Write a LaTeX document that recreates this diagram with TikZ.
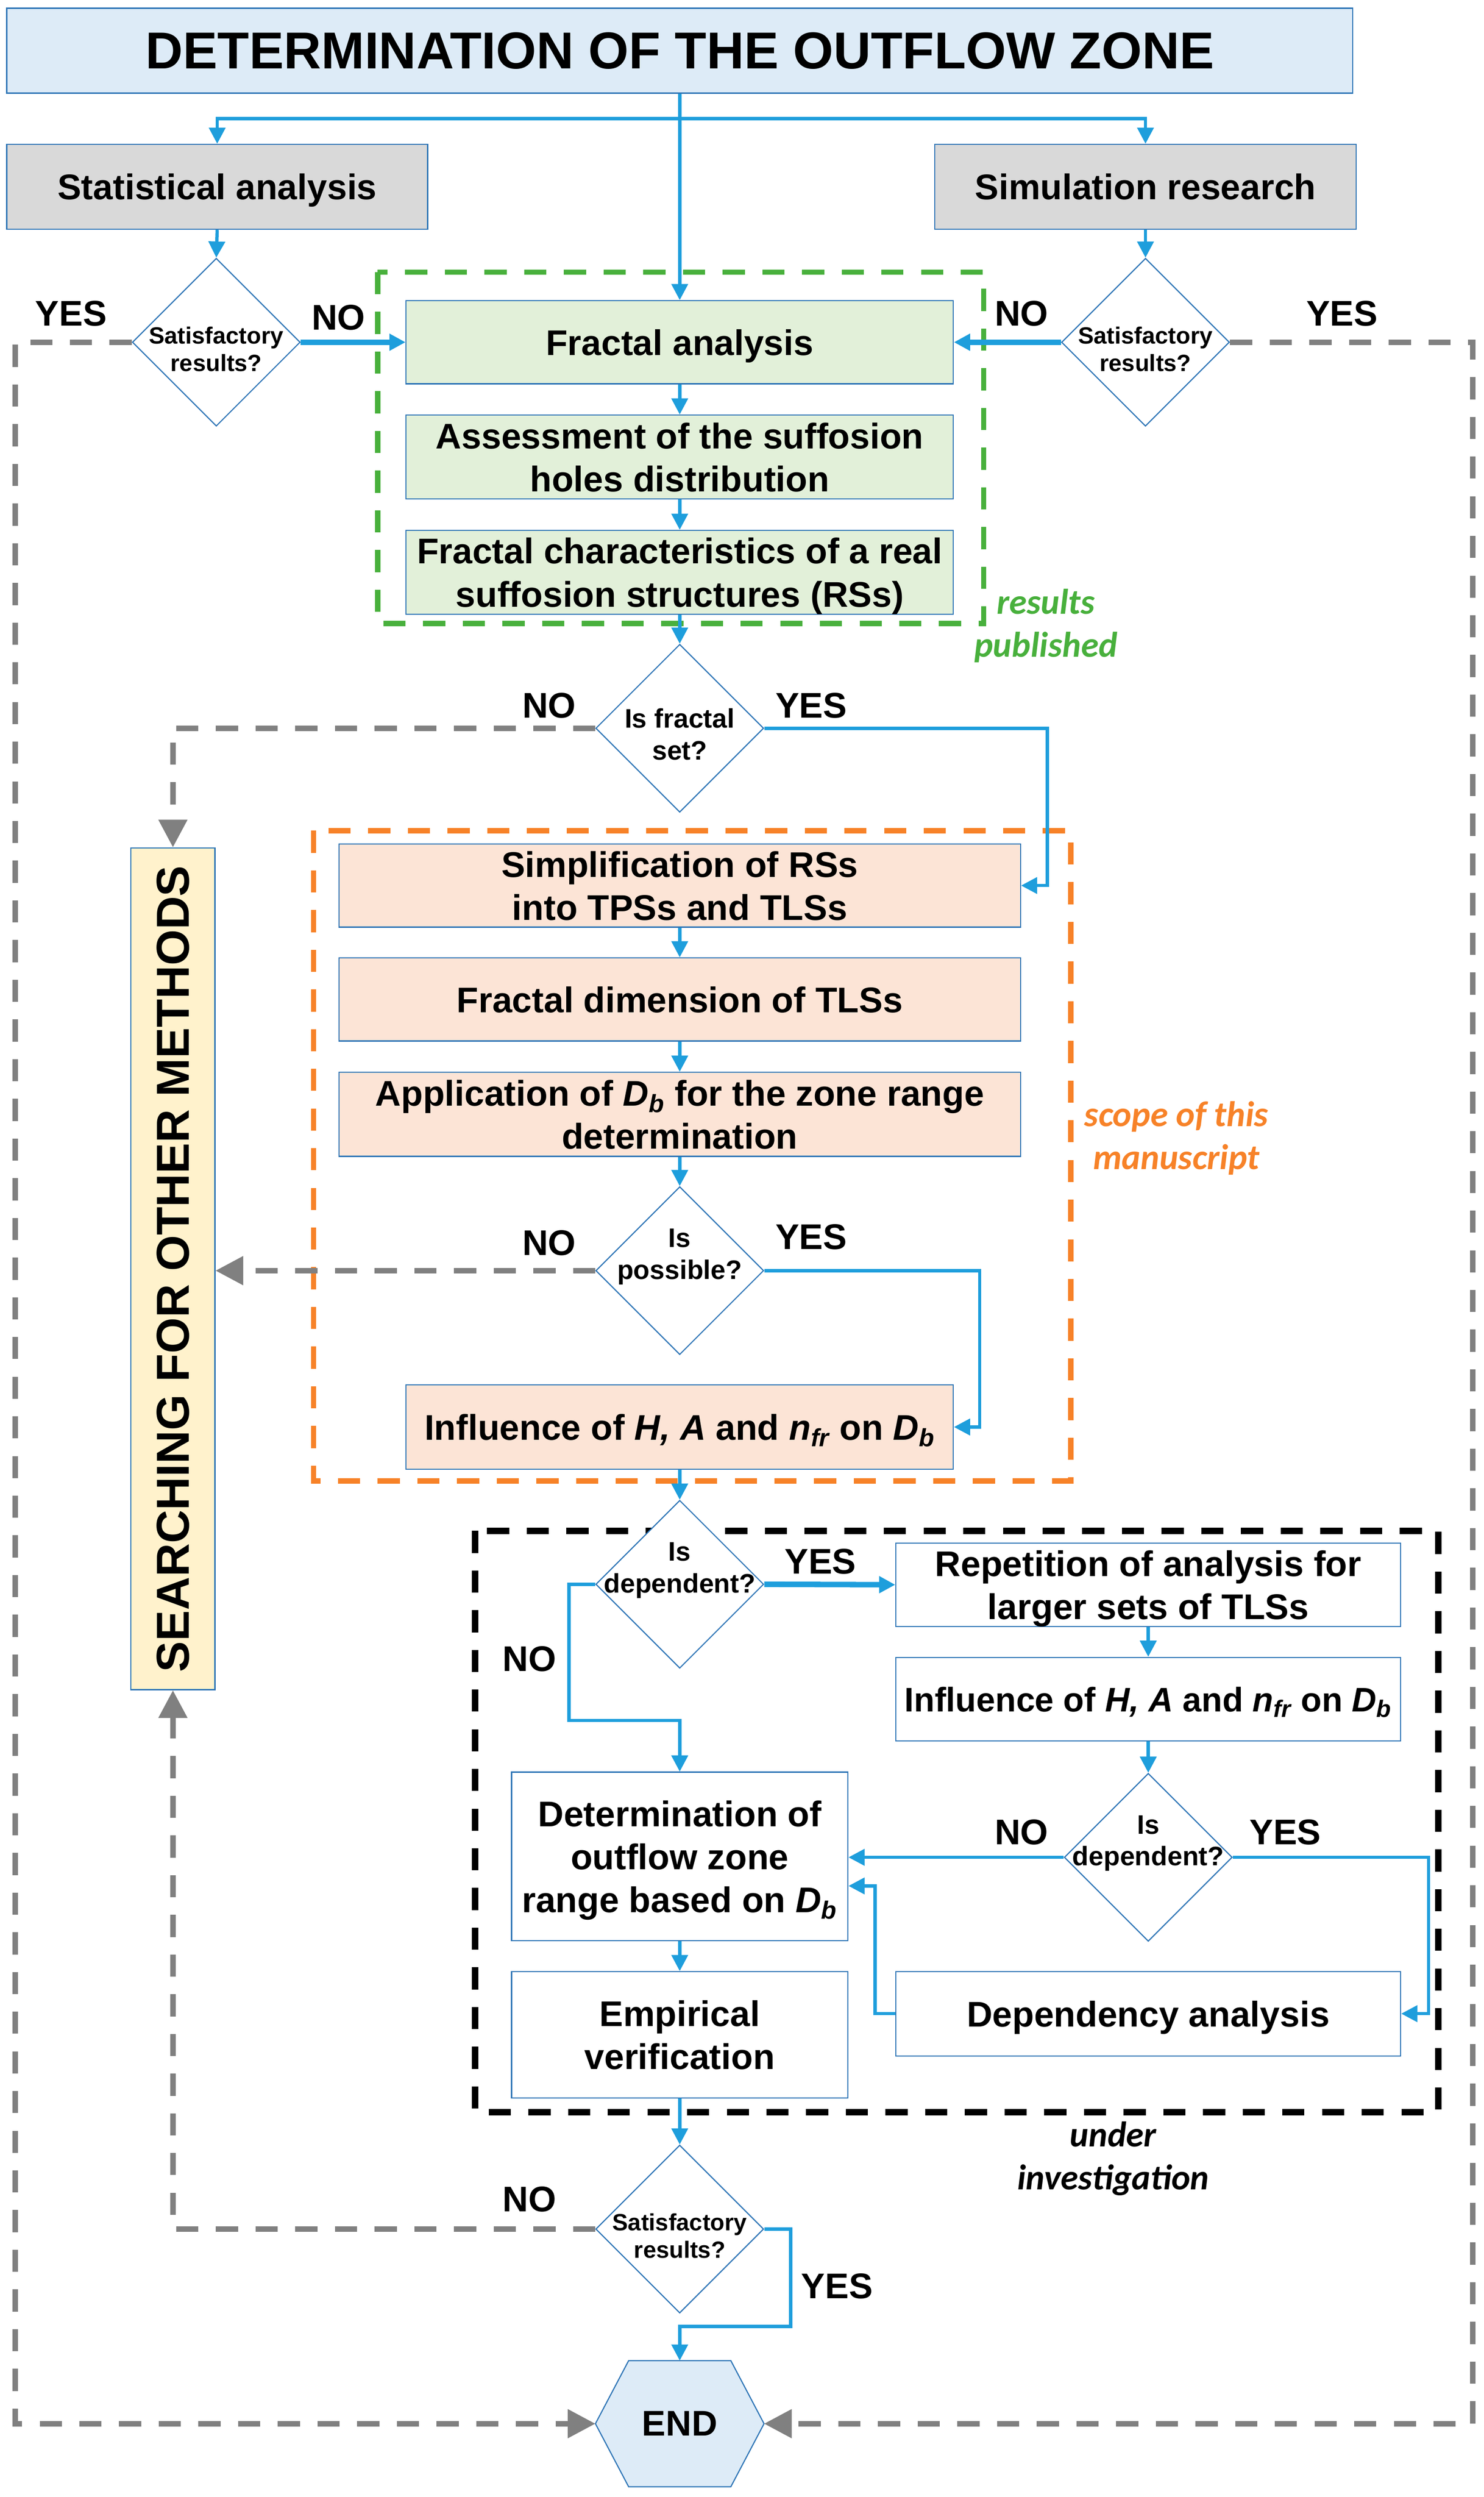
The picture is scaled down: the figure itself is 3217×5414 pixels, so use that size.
\documentclass[tikz,border=0pt]{standalone}
\usepackage{fontspec}
\setmainfont{Liberation Sans}
\newfontfamily\calib{Carlito}
\usetikzlibrary{shapes.geometric,arrows.meta,backgrounds}

\definecolor{boxline}{RGB}{46,117,182}
\definecolor{flowblue}{RGB}{30,158,220}
\definecolor{titlefill}{RGB}{221,235,247}
\definecolor{grayfill}{RGB}{217,217,217}
\definecolor{greenfill}{RGB}{226,240,217}
\definecolor{greendash}{RGB}{72,176,60}
\definecolor{orangefill}{RGB}{252,228,214}
\definecolor{orangedash}{RGB}{247,130,40}
\definecolor{yellowfill}{RGB}{255,242,204}
\definecolor{graydash}{RGB}{128,128,128}

\newcommand{\Db}{\textit{D\textsubscript{b}}}
\newcommand{\nfr}{\textit{n\textsubscript{fr}}}

\tikzset{
  box/.style={draw=boxline, line width=0.7pt, inner sep=0pt, align=center, text depth=0pt, font=\fontsize{22}{26.5}\selectfont\bfseries},
  decision/.style={diamond, draw=boxline, line width=0.7pt, fill=white, minimum width=3.64cm, minimum height=3.64cm, inner sep=0pt},
  flow/.style={draw=flowblue, line width=2pt, -{Triangle[length=0.35cm,width=0.35cm]}},
  thickflow/.style={flow, line width=3.4pt},
  altflow/.style={draw=graydash, line width=3.4pt, dash pattern=on 0.48cm off 0.38cm, -{Triangle[length=0.6cm,width=0.6cm]}},
  frame/.style={line width=3.2pt, dash pattern=on 0.48cm off 0.38cm},
  lbl/.style={font=\fontsize{22}{26}\selectfont\bfseries},
  note/.style={align=center, font=\fontsize{22}{26.5}\selectfont\calib\bfseries\itshape},
  qtext/.style={align=center, font=\fontsize{16.5}{19.5}\selectfont\bfseries},
  qsmall/.style={align=center, font=\fontsize{14.5}{17}\selectfont\bfseries},
}

\begin{document}
\begin{tikzpicture}[x=0.01cm, y=-0.01cm]
\useasboundingbox (0,0) rectangle (3217,5414);

% frames
\draw[frame, greendash] (819,590) rectangle (2133,1352);
\draw[frame, orangedash] (680,1801) rectangle (2322,3211);
\draw[frame, black, line width=4pt] (1030,3319) rectangle (3119,4580);

% top part
\node[box, fill=titlefill, minimum width=29.17cm, minimum height=1.84cm, font=\fontsize{32}{38}\selectfont\bfseries] (title) at (1474,110) {DETERMINATION OF THE OUTFLOW ZONE};
\node[box, fill=grayfill, minimum width=9.12cm, minimum height=1.84cm] (stat) at (471,405) {Statistical analysis};
\node[box, fill=grayfill, minimum width=9.13cm, minimum height=1.84cm] (sim) at (2484,405) {Simulation research};
\node[decision, label={[qsmall, yshift=-0.15cm]center:{Satisfactory\\results?}}] (sat1) at (469,742) {};
\node[decision, label={[qsmall, yshift=-0.15cm]center:{Satisfactory\\results?}}] (sat2) at (2484,742) {};
\coordinate (split) at (1474,257);

% published part
\node[box, fill=greenfill, minimum width=11.86cm, minimum height=1.80cm] (fa) at (1474,742) {Fractal analysis};
\node[box, fill=greenfill, minimum width=11.86cm, minimum height=1.82cm] (ash) at (1474,991) {Assessment of the suffosion\\holes distribution};
\node[box, fill=greenfill, minimum width=11.86cm, minimum height=1.82cm] (fch) at (1474,1241) {Fractal characteristics of a real\\suffosion structures (RSs)};
\node[note, text=greendash] (pub) at (2268,1357) {results\\published};
\node[decision, label={[qtext, yshift=-0.13cm]center:{Is fractal\\set?}}] (isfr) at (1474,1579) {};

% manuscript part
\node[box, fill=orangefill, minimum width=14.77cm, minimum height=1.80cm] (simp) at (1474,1920) {Simplification of RSs\\into TPSs and TLSs};
\node[box, fill=orangefill, minimum width=14.77cm, minimum height=1.80cm] (fdim) at (1474,2167) {Fractal dimension of TLSs};
\node[box, fill=orangefill, minimum width=14.77cm, minimum height=1.82cm] (appl) at (1474,2416) {Application of \Db{} for the zone range\\determination};
\node[decision, label={[qtext, yshift=0.3cm]center:{Is\\possible?}}] (ispos) at (1474,2755) {};
\node[box, fill=orangefill, minimum width=11.86cm, minimum height=1.83cm] (infl) at (1474,3094) {Influence of \textit{H, A} and \nfr{} on \Db};
\node[note, text=orangedash] (scope) at (2551,2468) {scope of this\\manuscript};

% investigation part
\node[decision, label={[qtext, yshift=0.3cm]center:{Is\\dependent?}}] (isdep1) at (1474,3435) {};
\node[box, minimum width=10.94cm, minimum height=1.81cm] (rep) at (2490,3436) {Repetition of analysis for\\larger sets of TLSs};
\node[box, minimum width=10.94cm, minimum height=1.81cm, font=\fontsize{21}{25}\selectfont\bfseries] (infltwo) at (2490,3684) {Influence of \textit{H, A} and \nfr{} on \Db};
\node[decision, label={[qtext, yshift=0.3cm]center:{Is\\dependent?}}] (isdep2) at (2490,4027) {};
\node[box, minimum width=7.29cm, minimum height=3.65cm] (det) at (1474,4025) {Determination of\\outflow zone\\range based on \Db};
\node[box, minimum width=7.29cm, minimum height=2.74cm] (emp) at (1474,4412) {Empirical\\verification};
\node[box, minimum width=10.94cm, minimum height=1.83cm] (dep) at (2490,4366) {Dependency analysis};
\node[note] (inv) at (2414,4680) {under\\investigation};

% end
\node[decision, label={[qsmall, yshift=-0.15cm]center:{Satisfactory\\results?}}] (sat3) at (1474,4833) {};
\node[lbl, minimum width=3.64cm, minimum height=2.72cm, inner sep=0pt] (end) at (1474,5255) {END};
\begin{scope}[on background layer]
\draw[draw=boxline, line width=0.7pt, fill=titlefill] (end.west) -- ([xshift=0.72cm]end.north west) -- ([xshift=-0.72cm]end.north east) -- (end.east) -- ([xshift=-0.72cm]end.south east) -- ([xshift=0.72cm]end.south west) -- cycle;
\end{scope}

% other methods
\node[box, fill=yellowfill, minimum width=1.82cm, minimum height=18.24cm, label={[rotate=90, font=\fontsize{28.5}{34}\selectfont\bfseries]center:SEARCHING FOR OTHER METHODS}] (search) at (375,2751) {};

% blue connectors
\draw[flow] (title.south) -- (fa.north);
\draw[flow] (split) -| (stat.north);
\draw[flow] (split) -| (sim.north);
\draw[flow] (stat.south) -- (sat1.north);
\draw[flow] (sim.south) -- (sat2.north);
\draw[thickflow] (sat1.east) -- (fa.west);
\draw[thickflow] (sat2.west) -- (fa.east);
\draw[flow] (fa.south) -- (ash.north);
\draw[flow] (ash.south) -- (fch.north);
\draw[flow] (fch.south) -- (isfr.north);
\draw[flow] (isfr.east) -| ([xshift=0.57cm]simp.east) -- (simp.east);
\draw[flow] (simp.south) -- (fdim.north);
\draw[flow] (fdim.south) -- (appl.north);
\draw[flow] (appl.south) -- (ispos.north);
\draw[flow] (ispos.east) -| ([xshift=0.56cm]infl.east) -- (infl.east);
\draw[flow] (infl.south) -- (isdep1.north);
\draw[thickflow] (isdep1.east) -- (rep.west);
\coordinate (nobend) at (1474,3730);
\draw[flow] (isdep1.west) -- ++(-57,0) |- (nobend) -- (det.north);
\draw[flow] (rep.south) -- (infltwo.north);
\draw[flow] (infltwo.south) -- (isdep2.north);
\draw[flow] (isdep2.west) -- (det.east |- isdep2.west);
\draw[flow] (isdep2.east) -| ([xshift=0.59cm]dep.east) -- (dep.east);
\draw[flow] (dep.west) -- ++(-44,0) |- ([yshift=-0.64cm]det.east);
\draw[flow] (det.south) -- (emp.north);
\draw[flow] (emp.south) -- (sat3.north);
\coordinate (yesbend) at (1474,5044);
\draw[flow] (sat3.east) -- ++(57,0) |- (yesbend) -- (end.north);

% gray connectors
\coordinate (lrail) at (33,5255);
\coordinate (rrail) at (3194,5255);
\draw[altflow] (sat1.west) -| (lrail) -- (end.west);
\draw[altflow] (sat2.east) -| (rrail) -- (end.east);
\draw[altflow] (isfr.west) -| (search.north);
\draw[altflow] (ispos.west) -- (search.east |- ispos.west);
\draw[altflow] (sat3.west) -| (search.south);

% answers
\node[lbl] (y1) at (154,680) {YES};
\node[lbl] (n1) at (734,689) {NO};
\node[lbl] (n2) at (2215,680) {NO};
\node[lbl] (y2) at (2910,680) {YES};
\node[lbl] (n3) at (1191,1530) {NO};
\node[lbl] (y3) at (1759,1530) {YES};
\node[lbl] (n4) at (1191,2695) {NO};
\node[lbl] (y4) at (1759,2682) {YES};
\node[lbl] (y5) at (1779,3386) {YES};
\node[lbl] (n5) at (1148,3597) {NO};
\node[lbl] (n6) at (2215,3973) {NO};
\node[lbl] (y6) at (2787,3973) {YES};
\node[lbl] (n7) at (1148,4769) {NO};
\node[lbl] (y7) at (1815,4957) {YES};
\end{tikzpicture}
\end{document}
